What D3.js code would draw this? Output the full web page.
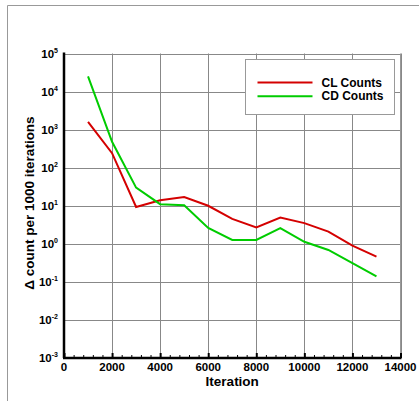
<!DOCTYPE html>
<html>
<head>
<meta charset="utf-8">
<title>CL / CD counts</title>
<script src="https://d3js.org/d3.v7.min.js"></script>
<style>
  body { margin: 0; background: white; }
  svg { display: block; font-family: "Liberation Sans", Arial, sans-serif; }
  text { font-weight: bold; }
</style>
</head>
<body>
<svg id="chart"></svg>
<script>
const iterations = [1000, 2000, 3000, 4000, 5000, 6000, 7000, 8000, 9000, 10000, 11000, 12000, 13000];
const clCounts = [1600, 240, 9.3, 14, 17, 10, 4.5, 2.7, 4.9, 3.5, 2.1, 0.9, 0.46];
const cdCounts = [25000, 480, 30, 11, 10.3, 2.6, 1.26, 1.26, 2.6, 1.13, 0.69, 0.31, 0.14];
const xTicks = [0, 2000, 4000, 6000, 8000, 10000, 12000, 14000];
const yExponents = [-3, -2, -1, 0, 1, 2, 3, 4, 5];

const width = 419, height = 401;
const plotLeft = 64, plotRight = 400.5, plotTop = 53.5, plotBottom = 358;

const svg = d3.select("#chart").attr("width", width).attr("height", height);

const x = d3.scaleLinear().domain([0, 14000]).range([plotLeft, plotRight]);
const y = d3.scaleLog().domain([1e-3, 1e5]).range([plotBottom, plotTop]);

// outer frame lines
svg.append("line").attr("x1", 7.5).attr("x2", 419).attr("y1", 5.5).attr("y2", 5.5)
  .attr("stroke", "#999").attr("stroke-width", 1);
svg.append("line").attr("x1", 7.5).attr("x2", 7.5).attr("y1", 5.5).attr("y2", 401)
  .attr("stroke", "#999").attr("stroke-width", 1);

// grid
svg.append("g").selectAll("line").data(xTicks.slice(1)).join("line")
  .attr("x1", d => Math.round(x(d)) + 0.5).attr("x2", d => Math.round(x(d)) + 0.5)
  .attr("y1", plotTop).attr("y2", plotBottom)
  .attr("stroke", "#888").attr("stroke-width", 1);
svg.append("g").selectAll("line").data(yExponents.slice(1)).join("line")
  .attr("x1", plotLeft).attr("x2", plotRight)
  .attr("y1", d => Math.round(y(Math.pow(10, d))) + 0.5).attr("y2", d => Math.round(y(Math.pow(10, d))) + 0.5)
  .attr("stroke", "#888").attr("stroke-width", 1);

// right border
svg.append("line").attr("x1", plotRight).attr("x2", plotRight).attr("y1", plotTop).attr("y2", plotBottom)
  .attr("stroke", "#999");

// x axis with inward ticks
const xAxis = d3.axisTop(x).tickValues(xTicks).tickSize(5).tickFormat("");
const gx = svg.append("g").attr("transform", `translate(0,${plotBottom})`).call(xAxis);
gx.select(".domain").remove();
gx.selectAll(".tick line").attr("stroke", "#000").attr("stroke-width", 2);
const minor = d3.range(0, 14001, 400).filter(d => d % 2000 !== 0);
const gxm = svg.append("g").attr("transform", `translate(0,${plotBottom})`)
  .call(d3.axisTop(x).tickValues(minor).tickSize(3).tickFormat(""));
gxm.select(".domain").remove();
gxm.selectAll(".tick line").attr("stroke", "#000").attr("stroke-width", 1);

svg.append("line").attr("x1", plotLeft - 1).attr("x2", plotRight + 1).attr("y1", plotBottom).attr("y2", plotBottom)
  .attr("stroke", "#000").attr("stroke-width", 2.5);
svg.append("line").attr("x1", plotLeft).attr("x2", plotLeft).attr("y1", plotTop - 1).attr("y2", plotBottom)
  .attr("stroke", "#000").attr("stroke-width", 2.5);

// x tick labels
svg.append("g").selectAll("text").data(xTicks).join("text")
  .attr("x", d => x(d)).attr("y", plotBottom + 12.5)
  .attr("text-anchor", "middle").attr("font-size", 11.5).attr("fill", "#000")
  .text(d => d);

// y tick labels: 10^n, right-aligned
const yl = svg.append("g").selectAll("text").data(yExponents).join("text")
  .attr("x", 58).attr("y", d => y(Math.pow(10, d)) + 4)
  .attr("text-anchor", "end").attr("fill", "#000");
yl.append("tspan").attr("font-size", 11.5).text("10");
yl.append("tspan").attr("font-size", 7).attr("dy", -5).text(d => d);

// axis titles
svg.append("text").attr("x", x(7000)).attr("y", 386)
  .attr("text-anchor", "middle").attr("font-size", 13.5).attr("fill", "#000")
  .text("Iteration");
svg.append("text").attr("transform", "translate(34,203) rotate(-90)")
  .attr("text-anchor", "middle").attr("font-size", 13.5).attr("fill", "#000")
  .text("\u0394 count per 1000 iterations");

// lines
const line = d3.line().x(d => x(d[0])).y(d => y(d[1]));
const series = [
  { name: "CL Counts", values: clCounts, color: "#d40000" },
  { name: "CD Counts", values: cdCounts, color: "#00cc00" }
];
series.forEach(s => {
  svg.append("path").datum(iterations.map((it, i) => [it, s.values[i]]))
    .attr("d", line).attr("fill", "none")
    .attr("stroke", s.color).attr("stroke-width", 2);
});

// legend
const lg = svg.append("g").attr("transform", "translate(245.5,59.5)");
lg.append("rect").attr("width", 149).attr("height", 55)
  .attr("fill", "#fff").attr("stroke", "#999");
series.forEach((s, i) => {
  const ly = 23 + i * 13.7;
  lg.append("line").attr("x1", 12).attr("x2", 67).attr("y1", ly).attr("y2", ly)
    .attr("stroke", s.color).attr("stroke-width", 2);
  lg.append("text").attr("x", 76).attr("y", ly + 4)
    .attr("font-size", 12).attr("fill", "#000").text(s.name);
});
</script>
</body>
</html>
